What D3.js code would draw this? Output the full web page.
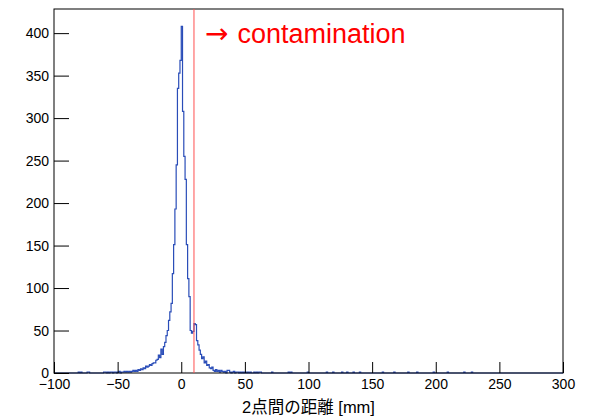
<!DOCTYPE html>
<html>
<head>
<meta charset="utf-8">
<script src="https://cdn.jsdelivr.net/npm/d3@7"></script>
<style>
  body { margin: 0; background: #fff; }
  text { font-family: "Liberation Sans", Arial, "Noto Sans CJK JP", sans-serif; }
</style>
</head>
<body>
<div id="viz"></div>
<script>
// histogram: 1 mm bins from -100 to 300, only non-empty bins listed
let binLow = [
  -81, -79, -74, -73, -61, -60, -58, -56, -55, -53, -52, -50, -49, -47, -46, -45, -44, -43, -42,
  -41, -40, -39, -38, -37, -36, -35, -34, -33, -32, -31, -30, -29, -28, -27, -26, -25, -24, -23, -22, -21,
  -20, -19, -18, -17, -16, -15, -14, -13, -12, -11, -10, -9, -8, -7, -6, -5, -4, -3, -2, -1,
  0, 1, 2, 3, 4, 5, 6, 7, 8, 9, 10, 11, 12, 13, 14, 15, 16, 17, 18, 19,
  20, 21, 22, 23, 24, 25, 26, 27, 28, 29, 30, 31, 32, 33, 34, 36, 37, 38, 40, 41,
  43, 44, 46, 48, 50, 52, 54, 57, 59, 61, 62, 71, 84, 86, 99, 114, 119, 126, 130, 135,
  140, 158, 167, 178, 185, 198, 209, 222, 228
]
let counts = [
  1, 1, 1, 1, 1, 1, 1, 1, 1, 1, 1, 1, 2, 1, 1, 2, 1, 2, 1,
  2, 1, 2, 3, 2, 3, 2, 4, 3, 5, 4, 6, 5, 8, 7, 8, 10, 9, 11, 12, 12,
  15, 16, 21, 18, 28, 22, 31, 36, 44, 50, 62, 72, 82, 117, 151, 193, 245, 335, 353, 368,
  408, 308, 255, 228, 151, 111, 90, 50, 47, 49, 58, 57, 38, 33, 27, 22, 17, 19, 12, 14,
  9, 10, 6, 5, 7, 3, 2, 4, 2, 3, 1, 3, 2, 1, 2, 3, 3, 1, 1, 2,
  1, 1, 1, 1, 1, 1, 1, 1, 1, 1, 1, 1, 1, 1, 1, 1, 1, 1, 1, 1,
  1, 1, 1, 1, 1, 1, 1, 1, 1
]
let xMajor = [-100, -50, 0, 50, 100, 150, 200, 250, 300]
let yMajor = [0, 50, 100, 150, 200, 250, 300, 350, 400]
let cutValue = 10
let xTitle = '2点間の距離 [mm]'
let noteArrow = '→'
let noteText = 'contamination'

let width = 589, height = 418
let frame = { left: 54, right: 563, top: 9, bottom: 373 }

let svg = d3.select('#viz')
  .append('svg')
  .attr('width', width)
  .attr('height', height)

svg.append('rect')
  .attr('width', width)
  .attr('height', height)
  .attr('fill', '#fff')

let x = d3.scaleLinear().domain([-100, 300]).range([frame.left, frame.right])
let y = d3.scaleLinear().domain([0, d3.max(counts) * 1.05]).range([frame.bottom, frame.top])

// dense bin array
let dense = new Array(400).fill(0)
binLow.forEach((lo, i) => {
  dense[lo + 100] = counts[i]
})

let steps = dense.map((c, i) => ({ e: -100 + i, c: c }))
steps.push({ e: 300, c: 0 })

let line = d3.line()
  .x(d => x(d.e))
  .y(d => y(d.c))
  .curve(d3.curveStepAfter)

svg.append('path')
  .attr('d', line([{ e: -100, c: 0 }].concat(steps)))
  .attr('fill', 'none')
  .attr('stroke', '#2a4db8')
  .attr('stroke-width', 1.2)

// axes
let xMinor = d3.range(-100, 301, 10)
let yMinor = d3.range(0, 421, 10)

let gx = svg.append('g').attr('transform', `translate(0,${frame.bottom})`)
gx.call(d3.axisBottom(x).tickValues(xMinor).tickSize(-5.5).tickFormat(''))
gx.call(d3.axisBottom(x).tickValues(xMajor).tickSize(-11).tickPadding(6)
  .tickFormat(d => d < 0 ? '\u2212' + Math.abs(d) : d))

let gy = svg.append('g').attr('transform', `translate(${frame.left},0)`)
gy.call(d3.axisLeft(y).tickValues(yMinor).tickSize(-7.5).tickFormat(''))
gy.call(d3.axisLeft(y).tickValues(yMajor).tickSize(-15).tickPadding(5))

svg.selectAll('.domain').remove()
svg.selectAll('.tick line').attr('stroke', '#000')
svg.selectAll('.tick text')
  .attr('font-size', 14)
  .attr('fill', '#000')
  .style('font-family', '"Liberation Sans", Arial, sans-serif')

svg.append('rect')
  .attr('x', frame.left)
  .attr('y', frame.top)
  .attr('width', frame.right - frame.left)
  .attr('height', frame.bottom - frame.top)
  .attr('fill', 'none')
  .attr('stroke', '#000')
  .attr('stroke-width', 1)

// cut line
svg.append('line')
  .attr('x1', x(cutValue))
  .attr('x2', x(cutValue))
  .attr('y1', frame.top)
  .attr('y2', frame.bottom)
  .attr('stroke', '#ff5050')
  .attr('stroke-width', 1)

let note = svg.append('text')
  .attr('x', 205)
  .attr('y', 43)
  .attr('font-size', 27)
  .attr('fill', '#ff0000')

note.append('tspan')
  .style('font-family', '"DejaVu Sans", sans-serif')
  .attr('font-size', 28)
  .text(noteArrow + ' ')

note.append('tspan')
  .text(noteText)

svg.append('text')
  .attr('x', (frame.left + frame.right) / 2)
  .attr('y', 413)
  .attr('text-anchor', 'middle')
  .attr('font-size', 16.5)
  .attr('fill', '#000')
  .text(xTitle)
</script>
</body>
</html>
